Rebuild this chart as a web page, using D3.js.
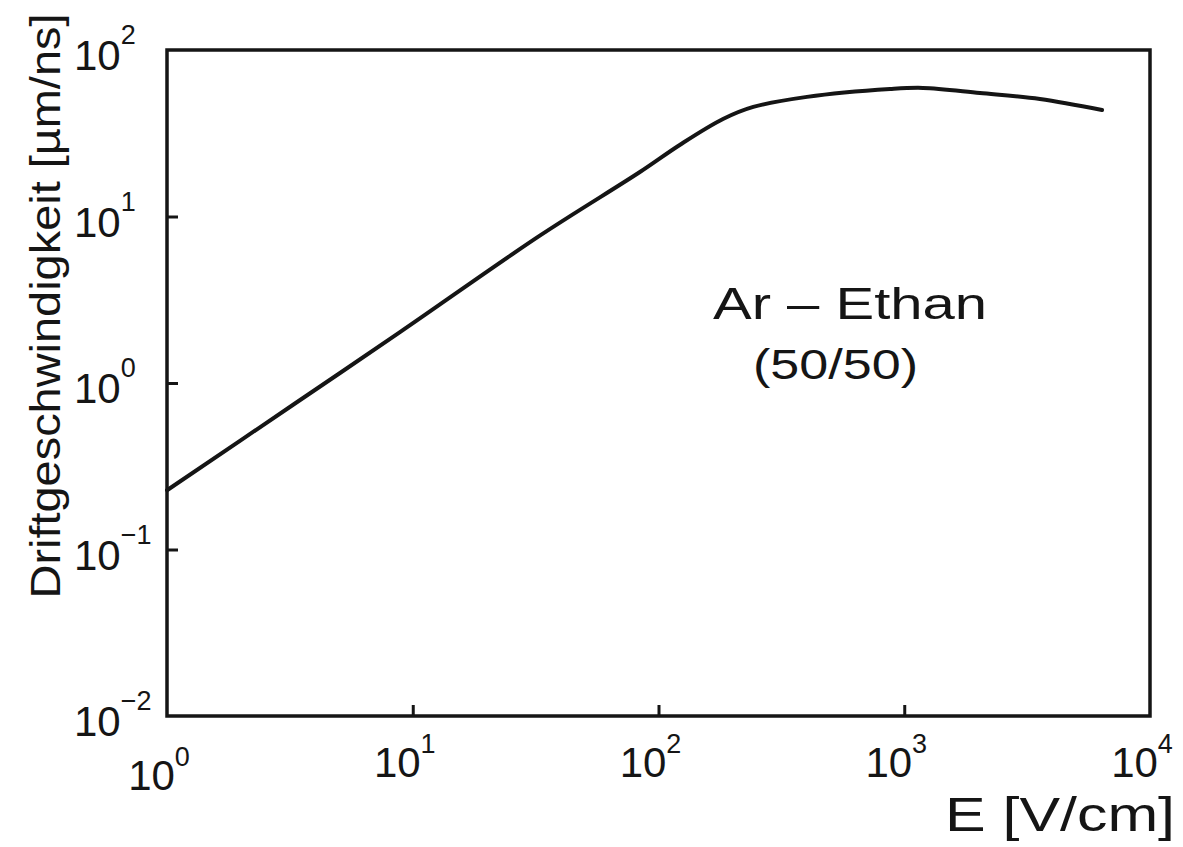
<!DOCTYPE html>
<html>
<head>
<meta charset="utf-8">
<script src="https://cdn.jsdelivr.net/npm/d3@7"></script>
<style>
  html, body { margin: 0; padding: 0; background: #fff; }
  svg { display: block; font-family: "Liberation Sans", "DejaVu Sans", sans-serif; }
</style>
</head>
<body>
<div id="chart"></div>
<script>
// E field [V/cm] and drift velocity [µm/ns]
const fieldE = [1, 3.26, 8.87, 33, 84, 122, 183, 243, 402, 875, 1192, 2032, 3565, 6380];
const driftV = [0.227, 0.74, 2.02, 7.7, 18.5, 26.9, 38.5, 45.5, 52.3, 58.3, 59.2, 55.2, 50.8, 43.6];

const xExponents = [0, 1, 2, 3, 4];
const yExponents = [-2, -1, 0, 1, 2];

const width = 1183;
const height = 847;
const margin = { top: 50, right: 33, bottom: 131, left: 167 };
const ink = '#151515';

const svg = d3.select('#chart').append('svg')
  .attr('width', width)
  .attr('height', height);

const x = d3.scaleLog().domain([1, 1e4]).range([margin.left, width - margin.right]);
const y = d3.scaleLog().domain([1e-2, 1e2]).range([height - margin.bottom, margin.top]);

// frame
svg.append('rect')
  .attr('x', x.range()[0])
  .attr('y', y.range()[1])
  .attr('width', x.range()[1] - x.range()[0])
  .attr('height', y.range()[0] - y.range()[1])
  .attr('fill', 'none')
  .attr('stroke', ink)
  .attr('stroke-width', 3.5);

// inward ticks, labels drawn separately
const xAxis = svg.append('g')
  .attr('transform', `translate(0,${y.range()[0]})`)
  .call(d3.axisBottom(x).tickValues(xExponents.slice(1, -1).map(e => 10 ** e)).tickSizeInner(-11).tickSizeOuter(0).tickFormat(''));
const yAxis = svg.append('g')
  .attr('transform', `translate(${x.range()[0]},0)`)
  .call(d3.axisLeft(y).tickValues(yExponents.slice(1, -1).map(e => 10 ** e)).tickSizeInner(-11).tickSizeOuter(0).tickFormat(''));
[xAxis, yAxis].forEach(a => {
  a.select('.domain').remove();
  a.selectAll('.tick line').attr('stroke', ink).attr('stroke-width', 3);
});

// x tick labels 10^n
const xLab = svg.append('g').selectAll('text').data(xExponents).join('text')
  .attr('x', d => x(10 ** d) - 8)
  .attr('y', d => (d === 0 ? 790 : 777))
  .attr('text-anchor', 'middle')
  .attr('font-size', 42)
  .attr('fill', ink);
xLab.append('tspan').text('10');
xLab.append('tspan').attr('dy', -24).attr('font-size', 27).text(d => d);

// y tick labels 10^n
const yLab = svg.append('g').selectAll('text').data(yExponents).join('text')
  .attr('x', 74)
  .attr('y', d => y(10 ** d) + 20)
  .attr('font-size', 42)
  .attr('fill', ink);
yLab.append('tspan').text('10');
yLab.append('tspan').attr('dy', -26).attr('font-size', 27).text(d => (d < 0 ? '\u2212' + Math.abs(d) : d));

// curve
const line = d3.line()
  .x((d, i) => x(fieldE[i]))
  .y(d => y(d))
  .curve(d3.curveCatmullRom.alpha(0.5));

svg.append('path')
  .datum(driftV)
  .attr('d', line)
  .attr('fill', 'none')
  .attr('stroke', ink)
  .attr('stroke-width', 4)
  .attr('stroke-linecap', 'round')
  .attr('stroke-linejoin', 'round');

// axis titles
svg.append('text')
  .attr('transform', 'translate(60,306) rotate(-90)')
  .attr('text-anchor', 'middle')
  .attr('font-size', 42)
  .attr('textLength', 585)
  .attr('lengthAdjust', 'spacingAndGlyphs')
  .attr('fill', ink)
  .text('Driftgeschwindigkeit [µm/ns]');

svg.append('text')
  .attr('x', 945)
  .attr('y', 831)
  .attr('font-size', 48)
  .attr('textLength', 230)
  .attr('lengthAdjust', 'spacingAndGlyphs')
  .attr('fill', ink)
  .text('E [V/cm]');

// annotation
svg.append('text')
  .attr('x', 713)
  .attr('y', 319)
  .attr('font-size', 44)
  .attr('textLength', 274)
  .attr('lengthAdjust', 'spacingAndGlyphs')
  .attr('fill', ink)
  .text('Ar \u2013 Ethan');

svg.append('text')
  .attr('x', 753)
  .attr('y', 379)
  .attr('font-size', 42)
  .attr('textLength', 165)
  .attr('lengthAdjust', 'spacingAndGlyphs')
  .attr('fill', ink)
  .text('(50/50)');
</script>
</body>
</html>
